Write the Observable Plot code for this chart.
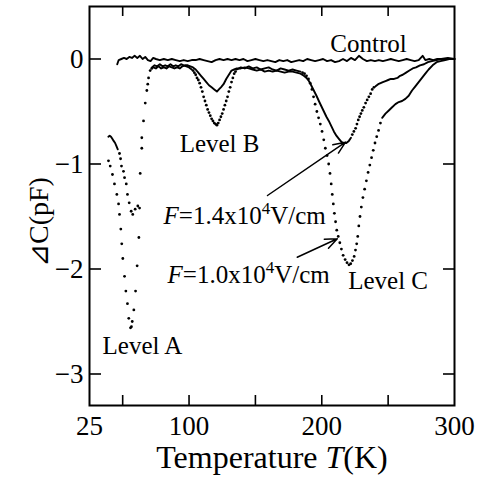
<!DOCTYPE html>
<html><head><meta charset="utf-8">
<script src="https://cdn.jsdelivr.net/npm/d3@7"></script>
<script src="https://cdn.jsdelivr.net/npm/@observablehq/plot@0.6"></script>
<style>body{margin:0;background:#fff}</style>
</head><body><div id="chart"></div>
<script>
// Axis ticks
const xTickLabels = [25, 100, 200, 300];
const xTickMarks = [50, 100, 150, 200, 250];
const yTicks = [0, -1, -2, -3];

// Control curve [T (K), ΔC (pF)]
const control = [
  [45.9,-0.05],[47,-0.01],[49,0.00],[51,0.01],[53,0.00],[55,0.02],[57,0.01],[59,0.03],[61,0.01],[63,0.03],
  [65,0.00],[67,0.02],[69,-0.01],[71,-0.02],[73,0.01],[75,0.00],[78,-0.01],[81,0.00],[84,-0.01],[87,0.00],
  [90,-0.01],[93,-0.02],[96,-0.01],[99,-0.02],[102,-0.01],[105,-0.01],[108,0.00],[111,-0.01],[114,-0.02],[117,-0.03],
  [120,-0.01],[123,0.00],[126,-0.01],[129,0.00],[132,-0.01],[135,0.00],[138,-0.01],[141,0.00],[144,-0.02],[147,-0.01],
  [150,0.00],[153,-0.01],[156,-0.02],[159,-0.01],[162,-0.02],[165,-0.03],[168,-0.01],[171,-0.02],[174,-0.01],[177,-0.03],
  [180,-0.02],[183,-0.01],[186,-0.02],[189,0.00],[192,-0.01],[195,-0.02],[198,-0.01],[201,0.00],[204,-0.02],[207,-0.01],
  [210,-0.03],[213,-0.02],[216,0.00],[219,-0.02],[222,0.01],[225,-0.01],[228,0.03],[231,0.00],[234,-0.02],[237,-0.01],
  [240,-0.02],[243,-0.01],[246,-0.02],[249,-0.01],[252,0.00],[255,-0.01],[258,-0.02],[261,-0.01],[264,0.00],[267,-0.01],
  [270,-0.02],[273,-0.01],[276,0.03],[278,-0.01],[281,0.00],[284,-0.01],[287,0.00],[290,0.00],[294,0.00],[300,0.00]
];

// F = 1.0x10^4 V/cm curve
const f10 = [
  [39.3,-0.97],[40.6,-1.02],[42.3,-1.10],[43.8,-1.19],[45.6,-1.29],[46.9,-1.38],[47.6,-1.48],[48.6,-1.62],[49.3,-1.76],[50.1,-1.90],
  [51.4,-2.07],[52.4,-2.21],[53.6,-2.33],[54.6,-2.47],[55.9,-2.56],[56.6,-2.55],[57.2,-2.50],[58.4,-2.39],[59.7,-2.21],[60.9,-1.97],
  [62.2,-1.70],[62.7,-1.42],[64.4,-0.85],[67.0,-0.42],[68.9,-0.24],[70.7,-0.11],
  [72,-0.08],[74,-0.06],[76,-0.07],[78,-0.05],[80,-0.07],[82,-0.06],[84,-0.07],[86,-0.05],[88,-0.07],[90,-0.06],
  [92,-0.07],[94,-0.05],[96,-0.06],[98,-0.07],[100,-0.08],[102,-0.10],
  [103,-0.11],[104,-0.13],[105,-0.15],[106,-0.18],[107,-0.20],[108,-0.23],[109,-0.27],[110,-0.31],[111,-0.36],[112,-0.40],
  [113,-0.44],[114,-0.48],[115,-0.51],[116,-0.54],[117,-0.57],[118,-0.59],[119,-0.61],[120,-0.62],[121,-0.63],[122,-0.61],
  [123,-0.58],[124,-0.55],[125,-0.52],[126,-0.48],[127,-0.44],[128,-0.40],[129,-0.36],[130,-0.31],[131,-0.27],[132,-0.22],
  [133,-0.18],[134,-0.14],[135,-0.12],
  [136,-0.10],[139,-0.08],[142,-0.09],[145,-0.07],[148,-0.09],[151,-0.08],[154,-0.10],[157,-0.09],[160,-0.08],[163,-0.10],
  [166,-0.11],[169,-0.09],[172,-0.10],[175,-0.11],[178,-0.10],[181,-0.11],[184,-0.12],
  [185.5,-0.13],[187,-0.14],[188.5,-0.16],[190,-0.19],[191.3,-0.23],[192.6,-0.29],[193.8,-0.36],[195,-0.43],[196.3,-0.50],[197.6,-0.56],
  [198.9,-0.62],[200.2,-0.69],[201.5,-0.77],[202.7,-0.85],[204,-0.92],[205.2,-1.00],[206.2,-1.09],[207.1,-1.19],[207.9,-1.29],[208.7,-1.38],
  [209.5,-1.47],[210.4,-1.55],[211.3,-1.63],[212.4,-1.69],[213.6,-1.75],[214.8,-1.81],[216.1,-1.87],[217.6,-1.91],[219,-1.94],[220.5,-1.96],
  [221.8,-1.95],[223.1,-1.92],[224.4,-1.88],[225.4,-1.82],[226.3,-1.76],[227.1,-1.69],[227.9,-1.59],[228.8,-1.50],[229.8,-1.41],[231,-1.32],
  [232.3,-1.24],[233.6,-1.16],[234.9,-1.08],[236.2,-1.01],[237.5,-0.94],[238.8,-0.87],[240.1,-0.80],[241.4,-0.74],[242.8,-0.68],[244.2,-0.61],
  [245.5,-0.56],[248,-0.52],[250.5,-0.49],[253,-0.46],[255.5,-0.43],[258,-0.41],[260.5,-0.40],[263,-0.38],[265.5,-0.35],[268,-0.30],
  [270.5,-0.26],[273,-0.22],[275.5,-0.18],[278,-0.14],[280.5,-0.10],[283.5,-0.06],[286.5,-0.03],[289.5,-0.02],[293,-0.01],[296,0.00],[300,0.00]
];

// F = 1.4x10^4 V/cm curve
const f14 = [
  [39.2,-0.74],[40.2,-0.73],[41.2,-0.74],[42.2,-0.76],[43.2,-0.78],[44.3,-0.80],[45.3,-0.83],[46.3,-0.86],
  [47.6,-0.90],[48.4,-0.95],[49.1,-1.02],[50.6,-1.07],[51.4,-1.13],[52.7,-1.19],[53.6,-1.29],[54.9,-1.37],[56.4,-1.45],[57.6,-1.48],
  [59.4,-1.43],[61.4,-1.40],[63.2,-1.09],[64.4,-0.75],[65.7,-0.59],[68.2,-0.30],[69.5,-0.18],[71.9,-0.09],
  [73,-0.08],[75,-0.09],[77,-0.07],[79,-0.09],[81,-0.08],[83,-0.09],[85,-0.07],[87,-0.08],[89,-0.09],[91,-0.08],
  [93,-0.09],[95,-0.07],[97,-0.06],[99,-0.06],[101,-0.07],[103,-0.08],[105,-0.10],[107,-0.13],[109,-0.16],[111,-0.19],
  [113,-0.22],[115,-0.25],[117,-0.27],[119,-0.29],[121,-0.31],[122.5,-0.29],[124,-0.27],[126,-0.24],[128,-0.19],[130,-0.15],
  [132,-0.11],[134,-0.10],[136,-0.09],[139,-0.09],[142,-0.08],[145,-0.09],[148,-0.10],[151,-0.11],[154,-0.10],[157,-0.12],
  [160,-0.11],[163,-0.12],[166,-0.11],[169,-0.12],[172,-0.13],[175,-0.12],[178,-0.12],[181,-0.13],[184,-0.14],[186.5,-0.16],
  [188.5,-0.18],[190.3,-0.21],[192,-0.25],[194,-0.30],[196,-0.35],[197.8,-0.40],[199.7,-0.45],[201.6,-0.50],[203.5,-0.55],[205.3,-0.59],
  [207.2,-0.64],[209.1,-0.69],[211,-0.73],[212.9,-0.76],[214.8,-0.79],[216.6,-0.80],[218.5,-0.80],[220.4,-0.78],[222,-0.75],
  [223,-0.72],[224.2,-0.69],[225.5,-0.66],[226.5,-0.62],[227.5,-0.58],[228.5,-0.55],[229.5,-0.52],[230.5,-0.49],[231.7,-0.46],[233,-0.42],
  [234.2,-0.39],[235.5,-0.36],[236.8,-0.33],[238,-0.29],[239.3,-0.27],
  [240.5,-0.26],[242.5,-0.24],[244.3,-0.23],[246,-0.22],[248,-0.21],[250,-0.20],[252,-0.19],[254.5,-0.19],[257,-0.18],[259,-0.16],
  [261,-0.15],[263.5,-0.13],[266,-0.11],[268.5,-0.09],[271,-0.08],[274,-0.06],[277,-0.05],[280,-0.03],[283,-0.02],[286.5,-0.01],
  [290,0.00],[295,0.01],[300,0.00]
];

// Temperature ranges where the measured points are seen separately (dotted look)
const dottedRanges = {
  "F10": [[39, 71.5], [102.5, 135.5], [185, 245]],
  "F14": [[47, 72], [222.5, 240]]
};

// Text annotations [label, T, ΔC]
const centerLabels = [["Control", 235.2, 0.062], ["Level B", 123, -0.89], ["Level A", 64.9, -2.805], ["Level C", 250, -2.195]];
const fieldLabels = [["F=1.4x104V/cm", 80.8, -1.567], ["F=1.0x104V/cm", 83.8, -2.138]];
// Arrows [T1, v1, T2, v2]
const arrows = [[159.1, -1.30, 217.9, -0.792], [181.5, -1.888, 211.7, -1.712]];

const xLabel = "Temperature T(K)";
const yLabel = "⊿C(pF)";

// Build rows
function rows(name, pts) {
  const rng = dottedRanges[name] || [];
  let seg = 0, prevDot = false;
  return pts.map(([T, v]) => {
    const dot = rng.some(([a, b]) => T >= a && T <= b);
    if (!dot && prevDot) seg++;
    prevDot = dot;
    return {series: name, T, v, dot, z: name + "-" + seg};
  });
}
const all = [...rows("C", control), ...rows("F10", f10), ...rows("F14", f14)];
const lineRows = all.filter(d => !d.dot);
const dotRows = all.filter(d => d.dot);

const font = "Liberation Serif, Times New Roman, serif";
const chart = Plot.plot({
  width: 491, height: 479,
  marginLeft: 89, marginRight: 37, marginTop: 6, marginBottom: 74,
  x: {domain: [25, 300]},
  y: {domain: [-3.3, 0.5]},
  style: {fontFamily: font, background: "white", color: "black"},
  marks: [
    Plot.axisX({ticks: xTickLabels, tickSize: 0, tickPadding: 10, fontSize: 27, label: null, tickFormat: d => String(d)}),
    Plot.axisY({ticks: yTicks, tickSize: 0, tickPadding: 6, fontSize: 27, label: null, tickFormat: d => d < 0 ? "\u2212" + Math.abs(d) : String(d)}),
    Plot.ruleX(xTickMarks, {x: d => d, insetTop: 389, strokeWidth: 1.6}),
    Plot.ruleX(xTickMarks, {x: d => d, insetBottom: 389, strokeWidth: 1.6}),
    Plot.ruleY(yTicks, {y: d => d, insetRight: 353, strokeWidth: 1.6}),
    Plot.ruleY(yTicks, {y: d => d, insetLeft: 354, strokeWidth: 1.6}),
    Plot.frame({stroke: "black", strokeWidth: 2}),
    Plot.line(lineRows, {x: "T", y: "v", z: "z", stroke: "black", strokeWidth: 1.9}),
    Plot.dot(dotRows, {x: "T", y: "v", r: 1.4, fill: "black", stroke: "none"}),
    Plot.arrow(arrows, {x1: d => d[0], y1: d => d[1], x2: d => d[2], y2: d => d[3], stroke: "black", strokeWidth: 1.5, headLength: 13, headAngle: 45}),
    Plot.text(centerLabels, {x: d => d[1], y: d => d[2], text: d => d[0], textAnchor: "middle", lineAnchor: "bottom", fontSize: 25}),
    Plot.text(fieldLabels, {x: d => d[1], y: d => d[2], text: d => d[0], textAnchor: "start", lineAnchor: "bottom", fontSize: 25}),
    Plot.text([xLabel], {text: d => d, frameAnchor: "bottom", dy: 52, lineAnchor: "middle", textAnchor: "middle", fontSize: 32}),
    Plot.text([yLabel], {text: d => d, frameAnchor: "left", dx: -50, dy: 16, rotate: -90, lineAnchor: "middle", textAnchor: "middle", fontSize: 28})
  ]
});

// Rich text: italics and superscripts
chart.querySelectorAll("text").forEach(t => {
  const s = t.textContent;
  if (s === xLabel) {
    t.innerHTML = 'Temperature <tspan font-style="italic">T</tspan>(K)';
  } else if (s.startsWith("F=") && s.includes("x10")) {
    const m = s.match(/^F=(.*x10)(\d)(.*)$/);
    t.innerHTML = '<tspan font-style="italic">F</tspan>=' + m[1] +
      '<tspan dy="-10" font-size="17">' + m[2] + '</tspan><tspan dy="10">' + m[3] + '</tspan>';
  }
});
document.getElementById("chart").appendChild(chart);
</script></body></html>
